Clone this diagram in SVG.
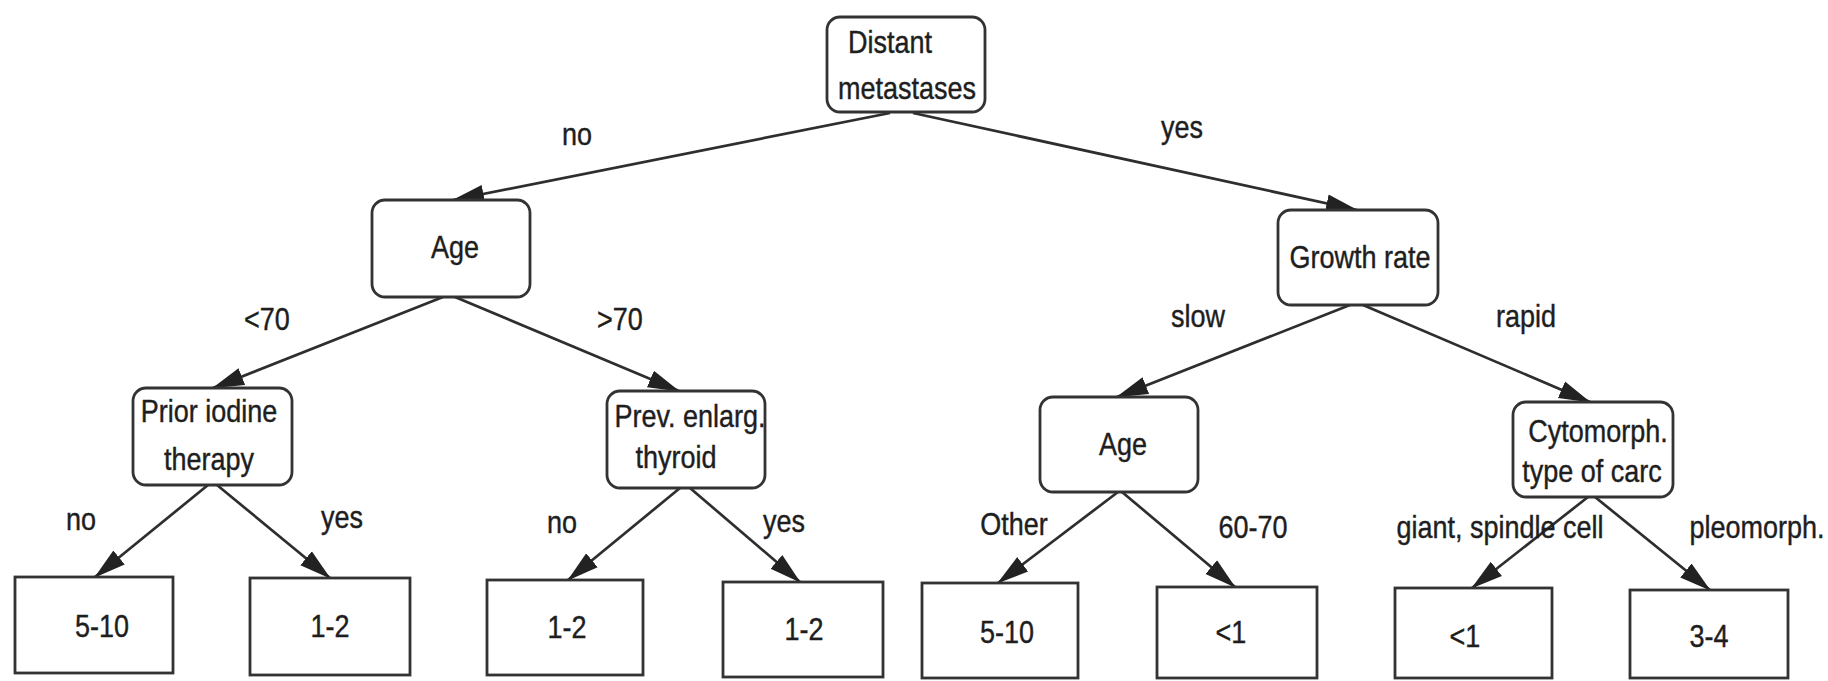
<svg xmlns="http://www.w3.org/2000/svg" width="1828" height="681" viewBox="0 0 1828 681">
<style>
.n rect{fill:#fff;stroke:#333;stroke-width:2.8}
.t{font-family:"Liberation Sans",Arial,sans-serif;font-size:27px;fill:#1e1e1e;text-anchor:middle;stroke:#1e1e1e;stroke-width:0.35}
.e line{stroke:#2e2e2e;stroke-width:2.7;marker-end:url(#ah)}
</style>
<defs>
<marker id="ah" markerUnits="userSpaceOnUse" markerWidth="34" markerHeight="22" refX="31" refY="11" orient="auto">
<path d="M0,2 L32,11 L0,20 z" fill="#222"/>
</marker>
</defs>
<rect width="1828" height="681" fill="#fff"/>
<g id="connectors" class="e">
<line x1="890" y1="113" x2="453" y2="200"/>
<line x1="913" y1="113" x2="1357" y2="210"/>
<line x1="443" y1="297" x2="213" y2="388"/>
<line x1="455" y1="297" x2="679" y2="391"/>
<line x1="1350" y1="305" x2="1117" y2="397"/>
<line x1="1363" y1="305" x2="1590" y2="402"/>
<line x1="208" y1="485" x2="95" y2="577"/>
<line x1="217" y1="485" x2="330" y2="578"/>
<line x1="680" y1="488" x2="568" y2="580"/>
<line x1="690" y1="488" x2="800" y2="582"/>
<line x1="1118" y1="492" x2="998" y2="583"/>
<line x1="1122" y1="492" x2="1235" y2="587"/>
<line x1="1588" y1="497" x2="1472" y2="588"/>
<line x1="1595" y1="497" x2="1710" y2="590"/>
</g>
<g id="edge-labels">
<text class="t" transform="translate(577,145) scale(1,1.17)">no</text>
<text class="t" transform="translate(1182,138) scale(1,1.17)">yes</text>
<text class="t" transform="translate(267,330) scale(1,1.17)">&lt;70</text>
<text class="t" transform="translate(620,330) scale(1,1.17)">&gt;70</text>
<text class="t" transform="translate(1198,327) scale(1,1.17)">slow</text>
<text class="t" transform="translate(1526,327) scale(1,1.17)">rapid</text>
<text class="t" transform="translate(81,530) scale(1,1.17)">no</text>
<text class="t" transform="translate(342,528) scale(1,1.17)">yes</text>
<text class="t" transform="translate(562,533) scale(1,1.17)">no</text>
<text class="t" transform="translate(784,532) scale(1,1.17)">yes</text>
<text class="t" transform="translate(1014,535) scale(1,1.17)">Other</text>
<text class="t" transform="translate(1253,538) scale(1,1.17)">60-70</text>
<text class="t" transform="translate(1500,538) scale(1,1.17)">giant, spindle cell</text>
<text class="t" transform="translate(1757,538) scale(1,1.17)">pleomorph.</text>
</g>
<g id="root" class="n"><rect x="827" y="17" width="158" height="95" rx="13"/>
<text class="t" transform="translate(890,53) scale(1,1.17)">Distant</text>
<text class="t" transform="translate(907,99) scale(1,1.17)">metastases</text></g>
<g id="age1" class="n"><rect x="372" y="200" width="158" height="97" rx="13"/>
<text class="t" transform="translate(455,258) scale(1,1.17)">Age</text></g>
<g id="growth" class="n"><rect x="1278" y="210" width="160" height="95" rx="13"/>
<text class="t" transform="translate(1360,268) scale(1,1.17)">Growth rate</text></g>
<g id="prior" class="n"><rect x="133" y="388" width="159" height="97" rx="13"/>
<text class="t" transform="translate(209,422) scale(1,1.17)">Prior iodine</text>
<text class="t" transform="translate(209,470) scale(1,1.17)">therapy</text></g>
<g id="prev" class="n"><rect x="607" y="391" width="158" height="97" rx="13"/>
<text class="t" transform="translate(690,427) scale(1,1.17)">Prev. enlarg.</text>
<text class="t" transform="translate(676,468) scale(1,1.17)">thyroid</text></g>
<g id="age2" class="n"><rect x="1040" y="397" width="158" height="95" rx="13"/>
<text class="t" transform="translate(1123,455) scale(1,1.17)">Age</text></g>
<g id="cyto" class="n"><rect x="1513" y="402" width="160" height="95" rx="13"/>
<text class="t" transform="translate(1598,442) scale(1,1.17)">Cytomorph.</text>
<text class="t" transform="translate(1592,482) scale(1,1.17)">type of carc</text></g>
<g id="leaf1" class="n"><rect x="15" y="577" width="158" height="96"/>
<text class="t" transform="translate(102,637) scale(1,1.17)">5-10</text></g>
<g id="leaf2" class="n"><rect x="250" y="578" width="160" height="97"/>
<text class="t" transform="translate(330,637) scale(1,1.17)">1-2</text></g>
<g id="leaf3" class="n"><rect x="487" y="580" width="156" height="95"/>
<text class="t" transform="translate(567,638) scale(1,1.17)">1-2</text></g>
<g id="leaf4" class="n"><rect x="723" y="582" width="160" height="95"/>
<text class="t" transform="translate(804,640) scale(1,1.17)">1-2</text></g>
<g id="leaf5" class="n"><rect x="922" y="583" width="156" height="95"/>
<text class="t" transform="translate(1007,643) scale(1,1.17)">5-10</text></g>
<g id="leaf6" class="n"><rect x="1157" y="587" width="160" height="91"/>
<text class="t" transform="translate(1231,643) scale(1,1.17)">&lt;1</text></g>
<g id="leaf7" class="n"><rect x="1395" y="588" width="157" height="90"/>
<text class="t" transform="translate(1465,647) scale(1,1.17)">&lt;1</text></g>
<g id="leaf8" class="n"><rect x="1630" y="590" width="158" height="88"/>
<text class="t" transform="translate(1709,647) scale(1,1.17)">3-4</text></g>
</svg>
